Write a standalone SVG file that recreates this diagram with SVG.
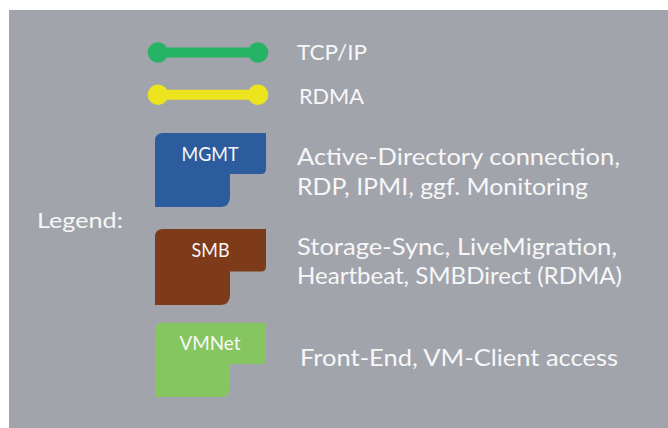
<svg xmlns="http://www.w3.org/2000/svg" width="668" height="428" viewBox="0 0 668 428">
<style>
.t{font-family:Lato,"Noto Sans","Liberation Sans",sans-serif;font-weight:400;fill:#f7f7f7}
.big{font-size:23.5px}
.mid{font-size:22px}
.lbl{font-size:20px;text-anchor:middle}
.ln{stroke-width:10;stroke-linecap:round}
</style>
<rect x="0" y="0" width="668" height="428" fill="#ffffff"/>
<rect x="9" y="10" width="659" height="418" fill="#a2a4ac"/>
<g id="legend-title"><text class="t mid" x="37" y="228" textLength="86" lengthAdjust="spacingAndGlyphs">Legend:</text></g>
<g id="connectors">
  <g id="tcpip-line">
    <line class="ln" x1="158" y1="52.5" x2="258" y2="52.5" stroke="#27b365"/>
    <circle cx="158" cy="52.5" r="10.3" fill="#27b365"/>
    <circle cx="258" cy="52.5" r="10.3" fill="#27b365"/>
  </g>
  <g id="rdma-line">
    <line class="ln" x1="158" y1="94.7" x2="258" y2="94.7" stroke="#ebe41f"/>
    <circle cx="158" cy="94.7" r="10.3" fill="#ebe41f"/>
    <circle cx="258" cy="94.7" r="10.3" fill="#ebe41f"/>
  </g>
</g>
<g id="tcpip-label"><text class="t mid" x="297" y="60" textLength="70" lengthAdjust="spacingAndGlyphs">TCP/IP</text></g>
<g id="rdma-label"><text class="t mid" x="299" y="104" textLength="65" lengthAdjust="spacingAndGlyphs">RDMA</text></g>
<g id="mgmt">
  <path d="M155,141 Q155,133 163,133 H266 V169 Q266,174 261,174 H230 V197 Q230,207 220,207 H155 Z" fill="#2d5c9e"/>
  <text class="t lbl" x="210" y="161" textLength="57" lengthAdjust="spacingAndGlyphs">MGMT</text>
</g>
<g id="mgmt-desc">
  <text class="t big" x="297" y="165" textLength="323" lengthAdjust="spacingAndGlyphs">Active-Directory connection,</text>
  <text class="t big" x="297" y="195" textLength="291" lengthAdjust="spacingAndGlyphs">RDP, IPMI, ggf. Monitoring</text>
</g>
<g id="smb">
  <path d="M155,237 Q155,229 163,229 H266 V266.5 Q266,271.5 261,271.5 H230 V295 Q230,305 220,305 H155 Z" fill="#7e3b1a"/>
  <text class="t lbl" x="210.5" y="257" textLength="38" lengthAdjust="spacingAndGlyphs">SMB</text>
</g>
<g id="smb-desc">
  <text class="t big" x="297" y="255" textLength="320" lengthAdjust="spacingAndGlyphs">Storage-Sync, LiveMigration,</text>
  <text class="t big" x="297" y="283.5" textLength="325" lengthAdjust="spacingAndGlyphs">Heartbeat, SMBDirect (RDMA)</text>
</g>
<g id="vmnet">
  <path d="M155,330.7 Q155,322.7 163,322.7 H266 V359 Q266,364 261,364 H230 V387 Q230,397 220,397 H155 Z" fill="#86c661"/>
  <text class="t lbl" x="210" y="350" textLength="61" lengthAdjust="spacingAndGlyphs">VMNet</text>
</g>
<g id="vmnet-desc">
  <text class="t big" x="300" y="366" textLength="318" lengthAdjust="spacingAndGlyphs">Front-End, VM-Client access</text>
</g>
</svg>
